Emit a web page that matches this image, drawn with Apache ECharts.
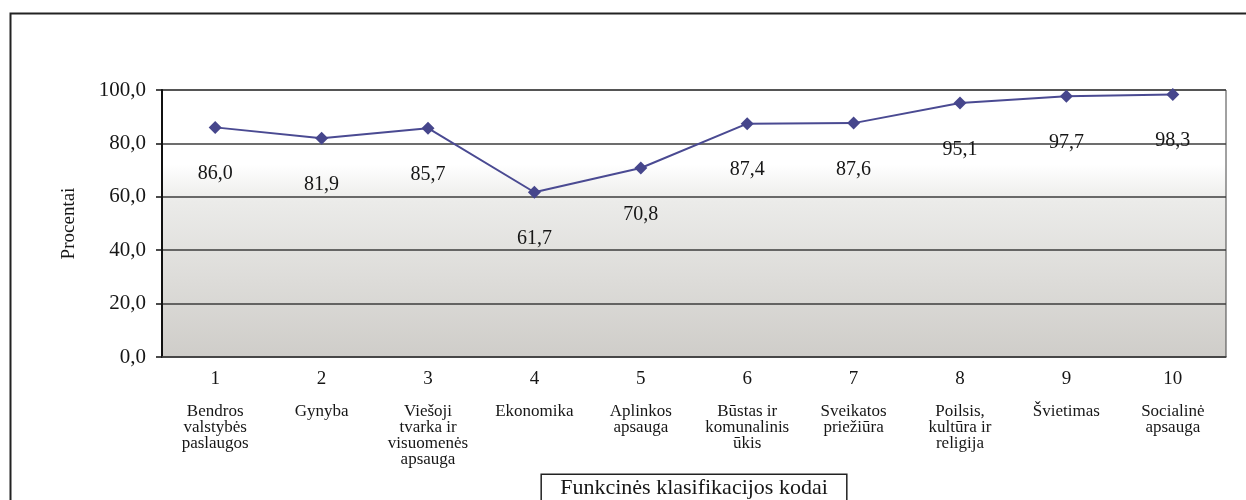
<!DOCTYPE html>
<html>
<head>
<meta charset="utf-8">
<script src="https://cdn.jsdelivr.net/npm/echarts@6/dist/echarts.min.js"></script>
<style>
  html, body { margin: 0; padding: 0; background: #fff; }
  #chart { width: 1246px; height: 500px; }
</style>
</head>
<body>
<div id="chart"></div>
<script>
// function classification codes and their names
const codes = ["1", "2", "3", "4", "5", "6", "7", "8", "9", "10"];
const names = [
    "Bendros\nvalstybės\npaslaugos",
    "Gynyba",
    "Viešoji\ntvarka ir\nvisuomenės\napsauga",
    "Ekonomika",
    "Aplinkos\napsauga",
    "Būstas ir\nkomunalinis\nūkis",
    "Sveikatos\npriežiūra",
    "Poilsis,\nkultūra ir\nreligija",
    "Švietimas",
    "Socialinė\napsauga",
];
const values = [86.0, 81.9, 85.7, 61.7, 70.8, 87.4, 87.6, 95.1, 97.7, 98.3];
const y_ticks = [0, 20, 40, 60, 80, 100];

const SERIF = "'Liberation Serif', 'Times New Roman', serif";
const INK = "#161616";
const fmt = (v) => v.toFixed(1).replace(".", ","); // lithuanian decimal comma

const chart = echarts.init(document.getElementById("chart"), null, { renderer: "canvas" });

chart.setOption({
    animation: false,
    graphic: [
        {
            // outer frame, runs past the bottom/right of the picture
            type: "rect",
            left: 8,
            top: 11,
            shape: { width: 1300, height: 600 },
            style: { fill: "none", stroke: "#222", lineWidth: 2 },
        },
    ],
    grid: {
        left: 162,
        right: 20,
        top: 90,
        bottom: 143,
        outerBoundsMode: "none", // keep plot box fixed, labels may overflow
        show: true,
        borderColor: "#444",
        borderWidth: 1,
        backgroundColor: {
            type: "linear",
            x: 0, y: 0, x2: 0, y2: 1,
            colorStops: [
                { offset: 0, color: "#ffffff" },
                { offset: 0.28, color: "#ffffff" },
                { offset: 0.42, color: "#ebebe9" },
                { offset: 1, color: "#cfcdc9" },
            ],
        },
    },
    xAxis: {
        type: "category",
        data: codes,
        boundaryGap: true,
        axisLine: { show: true, lineStyle: { color: "#444", width: 1.5 } },
        axisTick: { show: false },
        axisLabel: {
            margin: -3,
            interval: 0,
            formatter: (v, i) =>
                "{n|" + v + "}\n" +
                names[i].split("\n").map((s) => "{c|" + s + "}").join("\n"),
            rich: {
                n: { fontFamily: SERIF, fontSize: 19, color: INK, lineHeight: 50 },
                c: { fontFamily: SERIF, fontSize: 17, color: INK, lineHeight: 16 },
            },
        },
        name: "Funkcinės klasifikacijos kodai",
        nameLocation: "middle",
        nameGap: 115,
        nameTextStyle: {
            fontFamily: SERIF,
            fontSize: 22,
            color: INK,
            borderColor: "#222",
            borderWidth: 1.5,
            padding: [3, 19, 10, 19],
        },
    },
    yAxis: {
        type: "value",
        min: y_ticks[0],
        max: y_ticks[y_ticks.length - 1],
        interval: 20,
        axisLine: { show: true, lineStyle: { color: "#111", width: 2 } },
        axisTick: { show: true, length: 6, lineStyle: { color: "#111", width: 1.5 } },
        splitLine: { show: true, lineStyle: { color: "#3c3c3c", width: 1.5 } },
        axisLabel: {
            fontFamily: SERIF,
            fontSize: 21,
            color: INK,
            margin: 16,
            formatter: fmt,
        },
        name: "Procentai",
        nameLocation: "middle",
        nameGap: 83,
        nameTextStyle: { fontFamily: SERIF, fontSize: 19, color: INK },
    },
    series: [
        {
            type: "line",
            data: values,
            symbol: "diamond",
            symbolSize: 13,
            lineStyle: { color: "#4a4a92", width: 2 },
            itemStyle: { color: "#46468c" },
            label: {
                show: true,
                position: "bottom",
                distance: 30,
                fontFamily: SERIF,
                fontSize: 20,
                color: INK,
                formatter: (p) => fmt(p.value),
            },
        },
    ],
});
</script>
</body>
</html>
